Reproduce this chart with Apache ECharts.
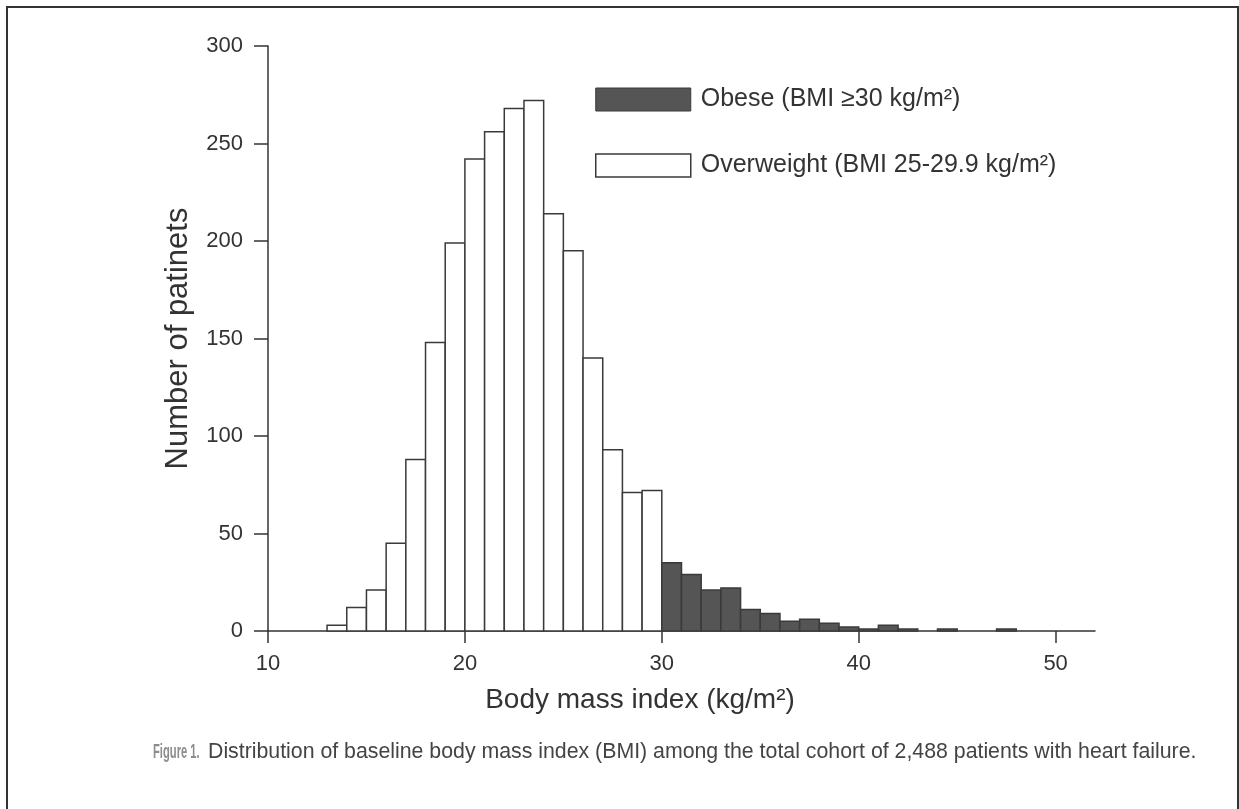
<!DOCTYPE html>
<html>
<head>
<meta charset="utf-8">
<title>BMI distribution</title>
<script src="https://cdn.jsdelivr.net/npm/echarts@6/dist/echarts.min.js"></script>
<style>
  html, body { margin: 0; padding: 0; background: #fff; }
  #bmi-hist { width: 1239px; height: 809px; }
</style>
</head>
<body>
<div id="bmi-hist"></div>
<script>
// histogram bins, 1 kg/m2 wide, labelled by their lower edge
var lowerBins = [13, 14, 15, 16, 17, 18, 19, 20, 21, 22, 23, 24, 25, 26, 27, 28, 29];
var lowerCounts = [3, 12, 21, 45, 88, 148, 199, 242, 256, 268, 272, 214, 195, 140, 93, 71, 72];
var obeseBins = [30, 31, 32, 33, 34, 35, 36, 37, 38, 39, 40, 41, 42, 43, 44, 45, 46, 47];
var obeseCounts = [35, 29, 21, 22, 11, 9, 5, 6, 4, 2, 1, 3, 1, 0, 1, 0, 0, 1];
var xTicks = [10, 20, 30, 40, 50];
var yTicks = [0, 50, 100, 150, 200, 250, 300];

var obeseName = 'Obese (BMI \u226530 kg/m\u00b2)';
var overName = 'Overweight (BMI 25-29.9 kg/m\u00b2)';

var FONT = '"Liberation Sans", Arial, Helvetica, sans-serif';

var dom = document.getElementById('bmi-hist');
var myChart = echarts.init(dom, null, { renderer: 'canvas' });

function pairs(bins, counts) {
  return bins.map(function (b, i) { return [b, counts[i]]; });
}

// each bar spans [bin, bin + 1] on the value axis
function barMaker(fill) {
  return function (params, api) {
    var x0 = api.value(0);
    var top = api.coord([x0, api.value(1)]);
    var base = api.coord([x0 + 1, 0]);
    if (api.value(1) <= 0) return null;
    return {
      type: 'rect',
      shape: { x: top[0], y: top[1], width: base[0] - top[0], height: base[1] - top[1] },
      style: { fill: fill, stroke: '#3a3a3a', lineWidth: 1.5 }
    };
  };
}

var option = {
  animation: false,
  backgroundColor: '#fff',
  textStyle: { fontFamily: FONT },
  grid: { left: 268, right: 144, top: 46, bottom: 178 },
  legend: {
    orient: 'vertical',
    left: 590,
    top: 82,
    itemWidth: 95,
    itemHeight: 23,
    itemGap: 41,
    icon: 'rect',
    selectedMode: false,
    textStyle: { fontSize: 25, color: '#333', fontFamily: FONT, padding: [0, 0, 0, 5] },
    data: [
      { name: obeseName, itemStyle: { color: '#555', borderColor: '#3a3a3a', borderWidth: 1 } },
      { name: overName, itemStyle: { color: '#fff', borderColor: '#3a3a3a', borderWidth: 1.5 } }
    ]
  },
  xAxis: {
    type: 'value',
    min: 10,
    max: 52,
    interval: 10,
    splitLine: { show: false },
    axisLine: { lineStyle: { color: '#333', width: 1.5 } },
    axisTick: { length: 12, lineStyle: { color: '#333', width: 1.5 }, customValues: xTicks },
    axisLabel: { fontSize: 22, color: '#333', margin: 22, customValues: xTicks }
  },
  yAxis: {
    type: 'value',
    min: 0,
    max: 300,
    interval: 50,
    name: 'Number of patinets',
    nameLocation: 'middle',
    nameGap: 74,
    nameTextStyle: { fontSize: 31, color: '#333' },
    splitLine: { show: false },
    axisLine: { show: true, lineStyle: { color: '#333', width: 1.5 } },
    axisTick: { show: true, length: 14, lineStyle: { color: '#333', width: 1.5 }, customValues: yTicks },
    axisLabel: { fontSize: 22, color: '#333', margin: 25, customValues: yTicks }
  },
  series: [
    {
      name: overName,
      type: 'custom',
      renderItem: barMaker('#fff'),
      itemStyle: { color: '#fff' },
      encode: { x: 0, y: 1 },
      data: pairs(lowerBins, lowerCounts)
    },
    {
      name: obeseName,
      type: 'custom',
      renderItem: barMaker('#555'),
      itemStyle: { color: '#555' },
      encode: { x: 0, y: 1 },
      data: pairs(obeseBins, obeseCounts)
    }
  ],
  graphic: [
    {
      type: 'rect',
      shape: { x: 7, y: 7, width: 1231, height: 820 },
      style: { fill: 'none', stroke: '#333', lineWidth: 2 },
      silent: true
    },
    {
      type: 'text',
      x: 640,
      y: 700,
      style: {
        text: 'Body mass index (kg/m\u00b2)', fontSize: 28, fill: '#333', fontFamily: FONT,
        textAlign: 'center', textVerticalAlign: 'middle'
      }
    },
    {
      type: 'text',
      x: 153,
      y: 752,
      scaleX: 0.56,
      style: {
        text: 'Figure 1.', fontSize: 20, fontWeight: 'bold', fill: '#8c8c8c', fontFamily: FONT,
        textVerticalAlign: 'middle'
      }
    },
    {
      type: 'text',
      x: 208,
      y: 752,
      style: {
        text: 'Distribution of baseline body mass index (BMI) among the total cohort of 2,488 patients with heart failure.',
        fontSize: 21.3, fill: '#444', fontFamily: FONT, textVerticalAlign: 'middle'
      }
    }
  ]
};

if (option && typeof option === 'object') {
  myChart.setOption(option);
}

window.addEventListener('resize', myChart.resize);
</script>
</body>
</html>
